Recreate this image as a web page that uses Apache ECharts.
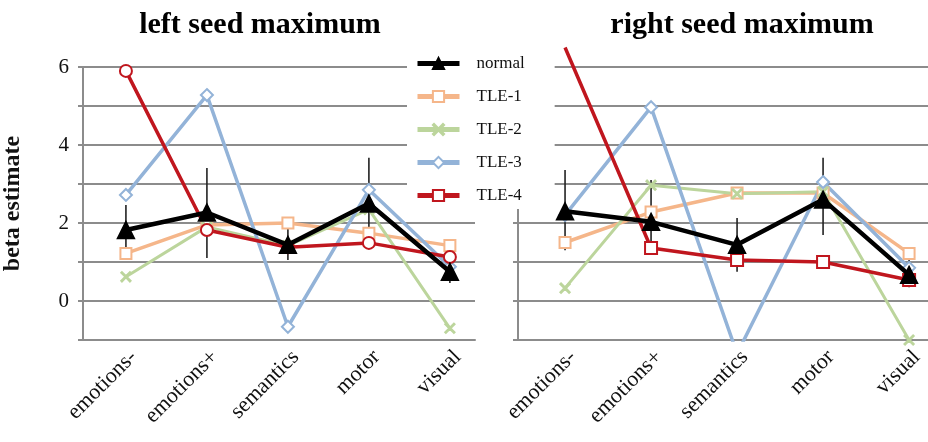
<!DOCTYPE html>
<html>
<head>
<meta charset="utf-8">
<script src="https://cdn.jsdelivr.net/npm/echarts@6/dist/echarts.min.js"></script>
<style>
  html, body { margin: 0; padding: 0; background: #fff; }
  #chart { width: 928px; height: 442px; }
</style>
</head>
<body>
<div id="chart"></div>
<script>
// categories and tick labels
const categories = ['emotions-', 'emotions+', 'semantics', 'motor', 'visual'];
const yLabels = [0, 2, 4, 6];

// left seed maximum
const normalL = [1.82, 2.27, 1.44, 2.5, 0.75];
const normalLLow = [1.3, 1.1, 1.05, 1.75, 0.46];
const normalLHigh = [2.46, 3.41, 1.87, 3.67, 1.05];
const tle1L = [1.22, 1.95, 2.0, 1.74, 1.42];
const tle2L = [0.62, 1.9, 1.42, 2.35, -0.7];
const tle3L = [2.72, 5.28, -0.66, 2.85, 0.88];
const tle4L = [5.9, 1.82, 1.38, 1.49, 1.13];

// right seed maximum
const normalR = [2.3, 2.03, 1.44, 2.6, 0.67];
const normalRLow = [1.3, 1.18, 0.75, 1.69, 0.35];
const normalRHigh = [3.36, 3.1, 2.13, 3.67, 1.1];
const tle1R = [1.5, 2.28, 2.77, 2.77, 1.22];
const tle2R = [0.33, 2.97, 2.75, 2.8, -1.0];
const tle3R = [2.2, 4.97, -1.35, 3.05, 0.85];
const tle4R = [6.5, 1.36, 1.05, 1.0, 0.54];

const serif = 'Liberation Serif';
const gridGray = '#8c8c8c';
const colors = {
  normal: '#000000',
  tle1: '#f5b68a',
  tle2: '#bcd59c',
  tle3: '#93b3d8',
  tle4: '#c0161e'
};
const xMark = 'path://M0,1L1,0L5,4L9,0L10,1L6,5L10,9L9,10L5,6L1,10L0,9L4,5Z';

const pts = arr => arr.map((v, i) => [i, v]);

function xAxis(idx, min, max) {
  return {
    type: 'value', gridIndex: idx, min: min, max: max,
    splitLine: { show: false },
    axisTick: { show: false },
    axisLine: { show: true, onZero: false, lineStyle: { color: gridGray, width: 2 } },
    axisLabel: {
      customValues: [0, 1, 2, 3, 4],
      formatter: v => categories[Math.round(v)],
      rotate: 45, margin: 6, verticalAlign: 'top',
      fontFamily: serif, fontSize: 22, color: '#111'
    }
  };
}

function yAxis(idx, showLabels) {
  return {
    type: 'value', gridIndex: idx, min: -1, max: 6, interval: 1,
    name: showLabels ? 'beta estimate' : '',
    nameLocation: 'middle', nameGap: 58, nameRotate: 90,
    nameTextStyle: { fontFamily: serif, fontSize: 24, fontWeight: 'bold', color: '#111' },
    axisLine: { show: true, onZero: false, lineStyle: { color: gridGray, width: 2 } },
    axisTick: { show: true, length: 5, lineStyle: { color: gridGray, width: 2 } },
    splitLine: { show: true, lineStyle: { color: gridGray, width: 2 } },
    axisLabel: {
      show: showLabels, margin: 14,
      fontFamily: serif, fontSize: 21, color: '#111',
      formatter: v => (yLabels.indexOf(v) >= 0 ? String(v) : '')
    }
  };
}

function lineSeries(name, data, idx, color, symbol, size, width, extra) {
  return Object.assign({
    name: name, type: 'line', xAxisIndex: idx, yAxisIndex: idx,
    data: data, symbol: symbol, symbolSize: size,
    lineStyle: { color: color, width: width },
    itemStyle: { color: color, borderColor: color, borderWidth: 1.5 },
    animation: false, z: 3
  }, extra || {});
}

function errSeries(idx, low, high) {
  return {
    type: 'custom', xAxisIndex: idx, yAxisIndex: idx,
    data: low.map((l, i) => [i, l, high[i]]),
    renderItem: (params, api) => {
      const a = api.coord([api.value(0), api.value(1)]);
      const b = api.coord([api.value(0), api.value(2)]);
      return {
        type: 'line',
        shape: { x1: a[0], y1: a[1], x2: b[0], y2: b[1] },
        style: { stroke: '#222', lineWidth: 1.6 }
      };
    },
    animation: false, z: 2
  };
}

// right panel red starts above the top gridline, no marker there
const tle4RData = pts(tle4R).map(p => (p[1] > 6 ? { value: p, symbol: 'none' } : p));

const chart = echarts.init(document.getElementById('chart'));
chart.setOption({
  backgroundColor: '#fff',
  animation: false,
  graphic: [
    { type: 'text', x: 260, y: 10, style: { text: 'left seed maximum', align: 'center',
      font: 'bold 30px "Liberation Serif"', fill: '#000' } },
    { type: 'text', x: 742, y: 10, style: { text: 'right seed maximum', align: 'center',
      font: 'bold 30px "Liberation Serif"', fill: '#000' } }
  ],
  legend: {
    orient: 'vertical', left: 407, top: 50,
    data: ['normal', 'TLE-1', 'TLE-2', 'TLE-3', 'TLE-4'],
    itemWidth: 42, itemHeight: 14, itemGap: 16,
    padding: [5, 30, 5, 8],
    backgroundColor: '#fff',
    lineStyle: { width: 5 },
    textStyle: { fontFamily: serif, fontSize: 17, color: '#111', padding: [0, 0, 0, 12] },
    z: 10
  },
  grid: [
    { left: 82, width: 393, top: 67, bottom: 102 },
    { left: 518, right: 0, top: 67, bottom: 102 }
  ],
  xAxis: [xAxis(0, -0.53, 4.31), xAxis(1, -0.547, 4.22)],
  yAxis: [yAxis(0, true), yAxis(1, false)],
  series: [
    // right panel (listed first so legend picks its markers)
    errSeries(1, normalRLow, normalRHigh),
    lineSeries('TLE-1', pts(tle1R), 1, colors.tle1, 'emptyRect', 11, 3.5),
    lineSeries('TLE-2', pts(tle2R), 1, colors.tle2, xMark, 10, 3),
    lineSeries('TLE-3', pts(tle3R), 1, colors.tle3, 'emptyDiamond', 12, 3.5),
    lineSeries('TLE-4', tle4RData, 1, colors.tle4, 'emptyRect', 12, 3.5, { clip: false }),
    lineSeries('normal', pts(normalR), 1, colors.normal, 'triangle', 17, 4.5, { z: 4 }),
    // left panel
    errSeries(0, normalLLow, normalLHigh),
    lineSeries('TLE-1', pts(tle1L), 0, colors.tle1, 'emptyRect', 11, 3.5),
    lineSeries('TLE-2', pts(tle2L), 0, colors.tle2, xMark, 10, 3),
    lineSeries('TLE-3', pts(tle3L), 0, colors.tle3, 'emptyDiamond', 12, 3.5),
    lineSeries('normal', pts(normalL), 0, colors.normal, 'triangle', 17, 4.5, { z: 4 }),
    lineSeries('TLE-4', pts(tle4L), 0, colors.tle4, 'emptyCircle', 12, 3.5)
  ]
});
</script>
</body>
</html>
